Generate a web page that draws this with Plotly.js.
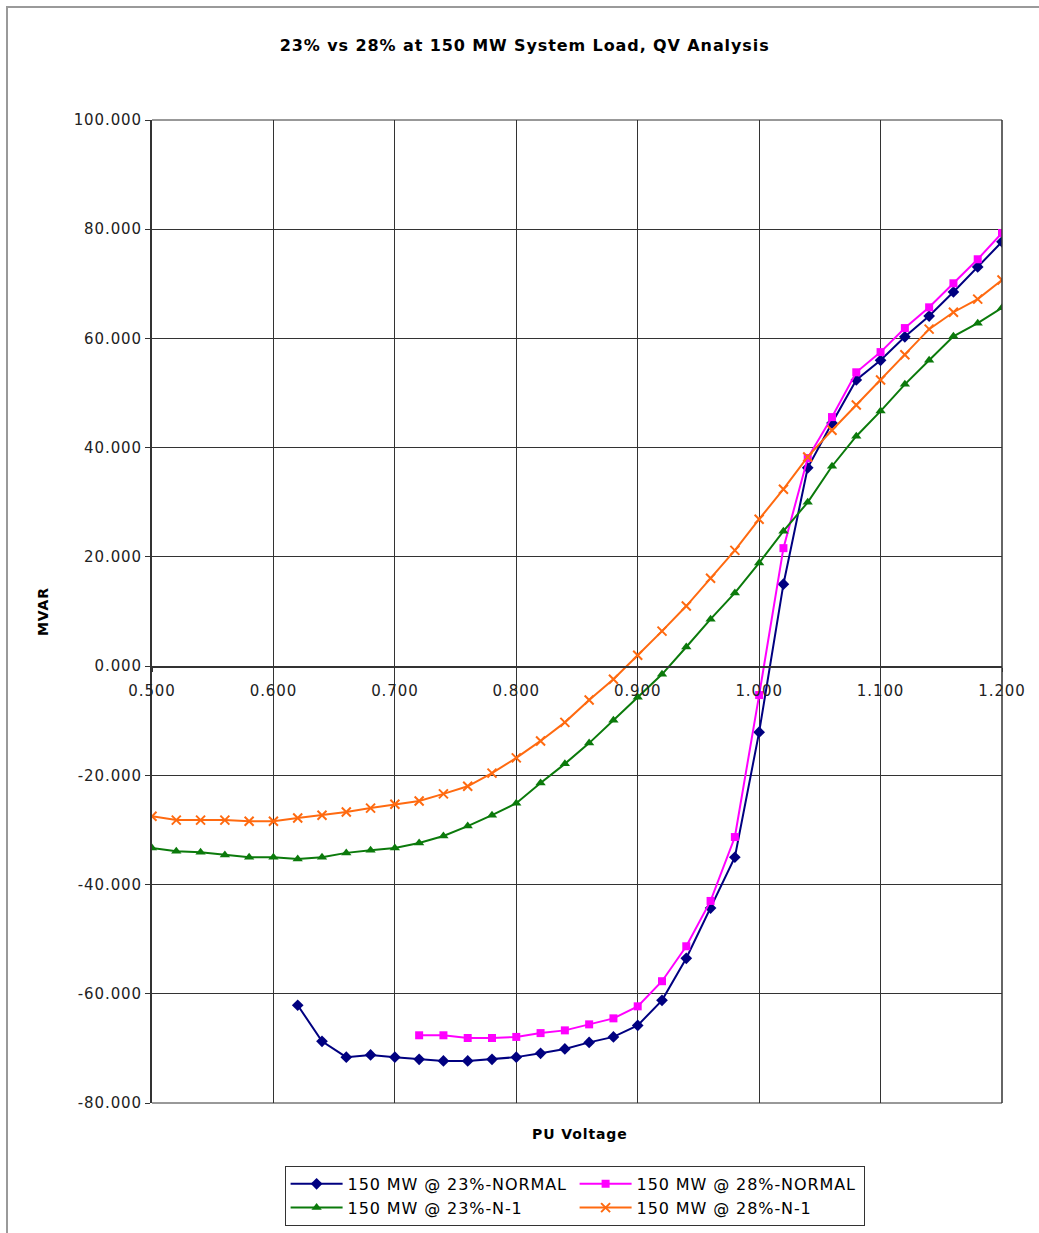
<!DOCTYPE html>
<html>
<head>
<meta charset="utf-8">
<script src="https://cdn.plot.ly/plotly-3.0.1.min.js"></script>
<style>
  html, body { margin: 0; padding: 0; background: #fff; }
  #wrap { position: relative; width: 1039px; height: 1233px; }
  #frame { position: absolute; left: 6px; top: 6px; right: 0; bottom: 0;
           border-left: 2px solid #9a9a9a; border-top: 2px solid #9a9a9a; pointer-events: none; }
  #chart { position: absolute; left: 0; top: 0; width: 1039px; height: 1233px; }
  svg text { letter-spacing: 0.9px; }
</style>
</head>
<body>
<div id="wrap">
  <div id="chart"></div>
  <div id="frame"></div>
</div>
<script>
// PU voltage sample points
const voltAll = [0.50,0.52,0.54,0.56,0.58,0.60,0.62,0.64,0.66,0.68,0.70,0.72,0.74,0.76,0.78,0.80,0.82,0.84,0.86,0.88,0.90,0.92,0.94,0.96,0.98,1.00,1.02,1.04,1.06,1.08,1.10,1.12,1.14,1.16,1.18,1.20];
const volt23Normal = [0.62,0.64,0.66,0.68,0.70,0.72,0.74,0.76,0.78,0.80,0.82,0.84,0.86,0.88,0.90,0.92,0.94,0.96,0.98,1.00,1.02,1.04,1.06,1.08,1.10,1.12,1.14,1.16,1.18,1.20];
const volt28Normal = [0.72,0.74,0.76,0.78,0.80,0.82,0.84,0.86,0.88,0.90,0.92,0.94,0.96,0.98,1.00,1.02,1.04,1.06,1.08,1.10,1.12,1.14,1.16,1.18,1.20];

// MVAR values
const mvar23Normal = [-62.1,-68.7,-71.6,-71.2,-71.6,-72.0,-72.3,-72.3,-72.0,-71.6,-70.9,-70.1,-68.9,-67.9,-65.8,-61.2,-53.5,-44.3,-35.0,-12.1,15.0,36.3,44.5,52.4,56.0,60.3,64.1,68.5,73.1,77.7];
const mvar28Normal = [-67.6,-67.6,-68.1,-68.1,-67.9,-67.2,-66.7,-65.6,-64.5,-62.3,-57.7,-51.3,-43.0,-31.3,-5.3,21.6,38.1,45.6,53.8,57.5,61.9,65.7,70.1,74.5,79.3];
const mvar23N1 = [-33.3,-33.9,-34.1,-34.6,-35.0,-35.0,-35.3,-35.0,-34.2,-33.7,-33.3,-32.4,-31.1,-29.3,-27.3,-25.1,-21.4,-17.9,-14.1,-9.9,-5.7,-1.5,3.5,8.6,13.4,18.9,24.7,30.0,36.6,42.1,46.7,51.6,56.0,60.4,62.8,65.6];
const mvar28N1 = [-27.5,-28.2,-28.2,-28.2,-28.4,-28.4,-27.8,-27.3,-26.7,-26.0,-25.3,-24.7,-23.4,-22.0,-19.6,-16.8,-13.7,-10.3,-6.2,-2.4,2.0,6.4,11.0,16.1,21.2,26.9,32.4,38.3,43.2,47.8,52.4,57.0,61.7,64.8,67.2,70.7];

const seriesNames = ["150 MW @ 23%-NORMAL","150 MW @ 28%-NORMAL","150 MW @ 23%-N-1","150 MW @ 28%-N-1"];
const xTickVals = [0.5,0.6,0.7,0.8,0.9,1.0,1.1,1.2];
const xTickText = ["0.500","0.600","0.700","0.800","0.900","1.000","1.100","1.200"];
const yTickVals = [-80,-60,-40,-20,0,20,40,60,80,100];
const yTickText = ["-80.000","-60.000","-40.000","-20.000","0.000","20.000","40.000","60.000","80.000","100.000"];

const font = "'DejaVu Sans', Verdana, sans-serif";

const traces = [
  {x: volt23Normal, y: mvar23Normal, name: seriesNames[0], mode: "lines+markers",
   line: {color: "#000080", width: 2}, marker: {symbol: "diamond", size: 9, color: "#000080"}},
  {x: volt28Normal, y: mvar28Normal, name: seriesNames[1], mode: "lines+markers",
   line: {color: "#FF00FF", width: 2}, marker: {symbol: "square", size: 8, color: "#FF00FF"}},
  {x: voltAll, y: mvar23N1, name: seriesNames[2], mode: "lines+markers",
   line: {color: "#0B7A0B", width: 2}, marker: {symbol: "triangle-up", size: 9, color: "#0B7A0B"}},
  {x: voltAll, y: mvar28N1, name: seriesNames[3], mode: "lines+markers",
   line: {color: "#FF6A10", width: 2}, marker: {symbol: "x-thin-open", size: 9, color: "#FF6A10", line: {width: 2, color: "#FF6A10"}}}
];

const layout = {
  width: 1039, height: 1233,
  margin: {l: 152, r: 37, t: 120, b: 130, autoexpand: false},
  paper_bgcolor: "#fff", plot_bgcolor: "#fff",
  showlegend: true,
  title: {text: "<b>23% vs 28% at 150 MW System Load, QV Analysis</b>",
          font: {family: font, size: 16, color: "#000"}, x: 0.505, xanchor: "center", y: 0.963, yanchor: "middle"},
  xaxis: {
    range: [0.5, 1.2], anchor: "free", position: 80/180,
    tickvals: xTickVals, ticktext: xTickText,
    tickfont: {family: font, size: 15, color: "#222"},
    showgrid: true, gridcolor: "#333", gridwidth: 1,
    showline: true, linecolor: "#333", linewidth: 1.5,
    ticks: "outside", ticklen: 4, tickcolor: "#333", ticklabelstandoff: 6,
    zeroline: false, fixedrange: true
  },
  yaxis: {
    range: [-80, 100], domain: [0, 1],
    tickvals: yTickVals, ticktext: yTickText,
    tickfont: {family: font, size: 15, color: "#222"},
    showgrid: true, gridcolor: "#333", gridwidth: 1,
    showline: true, linecolor: "#333", linewidth: 2,
    ticks: "outside", ticklen: 5, tickcolor: "#333",
    zeroline: false,
    title: {text: "<b>MVAR</b>", font: {family: font, size: 14, color: "#000"}, standoff: 22}
  },
  shapes: [
    {type: "line", xref: "paper", yref: "paper", x0: 1, x1: 1, y0: 0, y1: 1, line: {color: "#333", width: 1.5}},
    {type: "line", xref: "paper", yref: "paper", x0: 0, x1: 1, y0: 1, y1: 1, line: {color: "#333", width: 1}},
    {type: "line", xref: "paper", yref: "paper", x0: 0, x1: 1, y0: 0, y1: 0, line: {color: "#333", width: 1}}
  ],
  annotations: [
    {text: "<b>PU Voltage</b>", xref: "paper", yref: "paper", x: 0.503, y: -0.0315,
     xanchor: "center", yanchor: "middle", showarrow: false,
     font: {family: font, size: 14, color: "#000"}}
  ],
  legend: {
    orientation: "h", x: 0.156, xanchor: "left", y: -0.064, yanchor: "top",
    entrywidth: 222, entrywidthmode: "pixels",
    bordercolor: "#333", borderwidth: 1, bgcolor: "#fff",
    font: {family: font, size: 16, color: "#000"},
    tracegroupgap: 0, itemwidth: 52
  }
};

Plotly.newPlot("chart", traces, layout, {displayModeBar: false, staticPlot: true});
</script>
</body>
</html>
